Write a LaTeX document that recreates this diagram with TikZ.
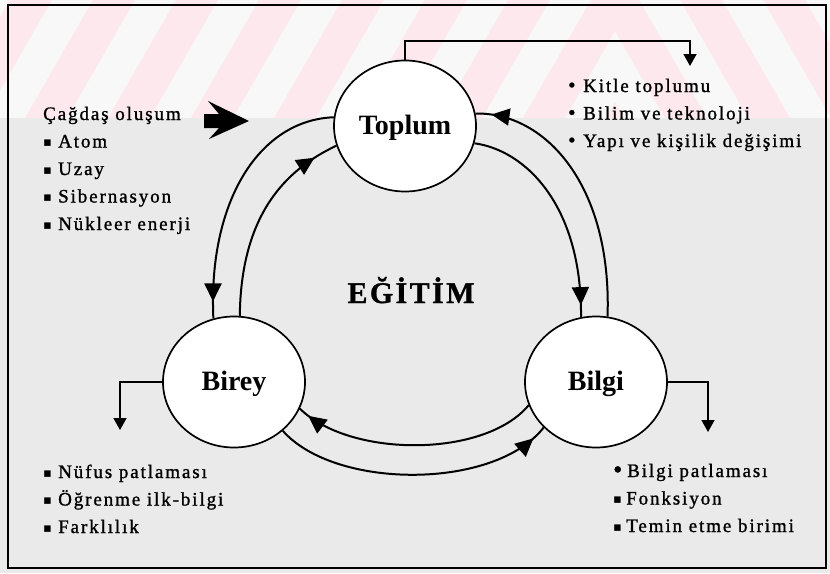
\documentclass[tikz,border=0pt]{standalone}
\usepackage{fontspec}
\setmainfont{Liberation Serif}
\newfontfamily\bulletfont{DejaVu Sans}
\usetikzlibrary{arrows.meta,decorations.markings,shapes.geometric}

\definecolor{paper}{RGB}{234,234,234}
\definecolor{bandwhite}{RGB}{248,248,248}
\definecolor{wmpink}{RGB}{253,233,237}

\newcommand\itemsfont{\fontsize{19}{27.5}\selectfont\addfontfeature{LetterSpace=10,FakeBold=1.2}}
\newcommand\itemsq{\makebox[15pt][l]{\raisebox{1pt}{\bulletfont\fontsize{13}{13}\selectfont ▪}}}
\newcommand\itemdot{\makebox[15pt][l]{\fontsize{21}{21}\selectfont•}}

\begin{document}
\begin{tikzpicture}[x=1pt,y=1pt,
  hub/.style={ellipse, draw, line width=1.7pt, fill=white, minimum width=142pt,
    minimum height=131pt, inner sep=0pt, text height=17pt, text depth=0pt,
    font=\fontsize{28}{28}\selectfont\bfseries},
  flow/.style={line width=2pt, postaction={decorate},
    decoration={markings, mark=at position #1 with {\arrow{Triangle[width=17pt,length=18pt]}}}},
  feed/.style={line width=1.7pt, -{Triangle[width=13pt,length=12pt]}},
  itemlist/.style={anchor=base west, inner sep=0pt, font=\itemsfont},
]
\useasboundingbox (0,0) rectangle (830,-573);
\fill[paper] (0,0) rectangle (830,-573);

% diagonal band pattern along the top, folding into chevrons on the right
\begin{scope}
  \clip (0,0) rectangle (615,-118);
  \fill[bandwhite] (0,0) rectangle (615,-118);
  \foreach \a in {-390,-307,...,620}
    \fill[wmpink] (\a,-118) -- (\a+42,-118) -- (\a+110,0) -- (\a+68,0) -- cycle;
\end{scope}
\begin{scope}
  \clip (615,0) rectangle (830,-118);
  \fill[bandwhite] (615,0) rectangle (830,-118);
  \foreach \a in {-390,-307,...,620}
    \fill[wmpink] (1230-\a,-118) -- (1188-\a,-118) -- (1120-\a,0) -- (1162-\a,0) -- cycle;
\end{scope}

% frame
\draw[line width=1.5pt] (8,-5) rectangle (826,-568);

% the three hubs
\node[hub] (toplum) at (405,-126) {Toplum};
\node[hub] (birey) at (234,-382) {Birey};
\node[hub] (bilgi) at (596,-382) {Bilgi};

\node[anchor=base, font=\fontsize{30}{30}\selectfont\bfseries\addfontfeature{LetterSpace=8,FakeBold=1}]
  (egitim) at (411,-303) {EĞİTİM};

% cycle between Toplum and Birey
\draw[flow=-17pt] (toplum.173) .. controls (260,-120) and (208,-200) .. (birey.108);
\draw[flow=-25pt] (birey.85) .. controls (241,-215) and (285,-170) .. (toplum.196);
% cycle between Toplum and Bilgi
\draw[flow=-12pt] (toplum.-14) .. controls (525,-150) and (582,-205) .. (bilgi.103);
\draw[flow=-16pt] (bilgi.80) .. controls (612,-185) and (545,-112) .. (toplum.10);
% cycle between Bilgi and Birey
\draw[flow=-11pt] (bilgi.199) .. controls (485,-458) and (350,-458) .. (birey.-22);
\draw[flow=-15pt] (birey.-45.6) .. controls (335,-490) and (495,-490) .. (bilgi.221);

% incoming arrow for the left list
\fill (249,-121) -- (208,-101) -- (219,-114) -- (204,-114) -- (204,-128) -- (219,-128)
  -- (209,-139) -- cycle;

% feeds from each hub to its list
\coordinate (ttip) at (690,-66);
\coordinate (btip) at (120,-430);
\coordinate (gtip) at (708,-432);
\draw[feed] (toplum.north) -- ++(0,19) -| (ttip);
\draw[feed] (birey.west) -| (btip);
\draw[feed] (bilgi.east) -| (gtip);

% lists
\node[itemlist] (cagdas) at (43,-120) {\begin{tabular}[t]{@{}l@{}}
  Çağdaş oluşum\\
  \itemsq Atom\\
  \itemsq Uzay\\
  \itemsq Sibernasyon\\
  \itemsq Nükleer enerji
\end{tabular}};

\node[itemlist] (toplumlist) at (568,-92) {\begin{tabular}[t]{@{}l@{}}
  \itemdot Kitle toplumu\\
  \itemdot Bilim ve teknoloji\\
  \itemdot Yapı ve kişilik değişimi
\end{tabular}};

\node[itemlist] (bireylist) at (43,-478) {\begin{tabular}[t]{@{}l@{}}
  \itemsq Nüfus patlaması\\
  \itemsq Öğrenme ilk-bilgi\\
  \itemsq Farklılık
\end{tabular}};

\node[itemlist] (bilgilist) at (613,-477) {\begin{tabular}[t]{@{}l@{}}
  \makebox[14pt][l]{\fontsize{26}{26}\selectfont\raisebox{-1pt}{•}}Bilgi patlaması\\
  \makebox[13pt][l]{\raisebox{1pt}{\bulletfont\fontsize{13}{13}\selectfont ▪}}Fonksiyon\\
  \makebox[13pt][l]{\raisebox{1pt}{\bulletfont\fontsize{13}{13}\selectfont ▪}}Temin etme birimi
\end{tabular}};
\end{tikzpicture}
\end{document}
